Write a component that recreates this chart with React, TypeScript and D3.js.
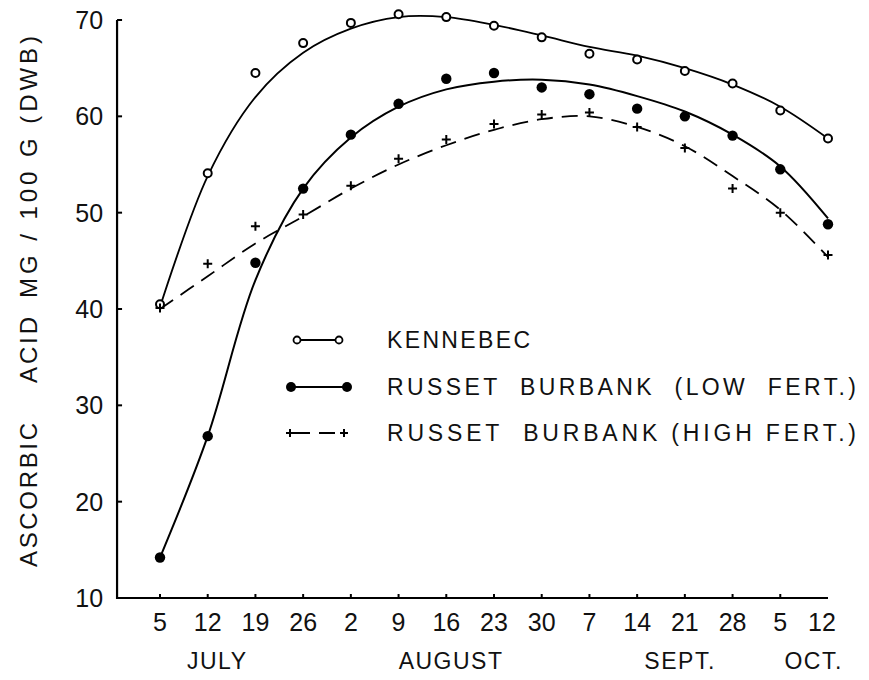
import * as d3 from "d3";

// week labels along the x axis (one every 7 days)
const weekLabels = ["5", "12", "19", "26", "2", "9", "16", "23", "30", "7", "14", "21", "28", "5", "12"];
const months = [
  { name: "JULY", at: 1.2 },
  { name: "AUGUST", at: 6.1 },
  { name: "SEPT.", at: 10.9 },
  { name: "OCT.", at: 13.7 },
];
const yTicks = [10, 20, 30, 40, 50, 60, 70];

// observed points
const kennebec = [40.5, 54.1, 64.5, 67.6, 69.7, 70.6, 70.3, 69.4, 68.2, 66.5, 65.9, 64.7, 63.4, 60.6, 57.7];
const russetLow = [14.2, 26.8, 44.8, 52.5, 58.1, 61.3, 63.9, 64.5, 63.0, 62.3, 60.8, 60.0, 58.0, 54.5, 48.8];
const russetHigh = [40.1, 44.7, 48.6, 49.8, 52.8, 55.6, 57.6, 59.2, 60.2, 60.4, 58.9, 56.7, 52.5, 50.0, 45.6];

// fitted (hand-drawn) trend curves, read at each week
const kennebecFit = [40.2, 53.8, 62.0, 66.6, 69.1, 70.3, 70.3, 69.5, 68.4, 67.2, 66.3, 65.0, 63.3, 61.0, 57.7];
const russetLowFit = [14.2, 26.8, 43.0, 52.5, 57.8, 61.0, 62.8, 63.6, 63.8, 63.3, 62.1, 60.5, 58.1, 54.8, 49.4];
const russetHighFit = [40.0, 43.4, 46.8, 49.6, 52.5, 55.0, 57.0, 58.6, 59.7, 60.0, 58.9, 56.9, 53.8, 50.3, 45.4];

const FONT = "'Liberation Sans', Arial, sans-serif";

const xScale = d3.scaleLinear().domain([0, 14]).range([160, 828]);
const yScale = d3.scaleLinear().domain([10, 70]).range([598, 20]);

const lineGen = d3
  .line<number>()
  .x((_, i) => xScale(i))
  .y((d) => yScale(d))
  .curve(d3.curveCatmullRom.alpha(0.5));

const Plus = ({ x, y, s = 5 }: { x: number; y: number; s?: number }) => (
  <path d={`M${x - s},${y}H${x + s}M${x},${y - s}V${y + s}`} stroke="#000" strokeWidth={2} />
);

export default function App() {
  const x0 = xScale(-0.9);
  const x1 = xScale(14);
  const yb = yScale(10);
  const yt = yScale(70);

  return (
    <svg width={869} height={680} style={{ display: "block", position: "absolute", left: 0, top: 0 }}>
      <rect width={869} height={680} fill="#fff" />

      {/* y axis title */}
      <g fontFamily={FONT} fontSize={24} fill="#111">
        <text transform="translate(37,495) rotate(-90)" textAnchor="middle" textLength={144} lengthAdjust="spacing">ASCORBIC</text>
        <text transform="translate(37,350) rotate(-90)" textAnchor="middle" textLength={66} lengthAdjust="spacing">ACID</text>
        <text transform="translate(37,167) rotate(-90)" textAnchor="middle" textLength={262} lengthAdjust="spacing">MG / 100 G (DWB)</text>
      </g>

      {/* axes */}
      <path d={`M${x0},${yt}V${yb}H${x1}`} fill="none" stroke="#000" strokeWidth={2.2} />
      {yTicks.map((t) => (
        <g key={t}>
          <line x1={x0} x2={x0 + 5} y1={yScale(t)} y2={yScale(t)} stroke="#000" strokeWidth={2} />
          <text x={x0 - 14} y={yScale(t)} dy="0.36em" textAnchor="end" fontFamily={FONT} fontSize={25} fill="#111">
            {t}
          </text>
        </g>
      ))}
      {weekLabels.map((w, i) => (
        <g key={i}>
          {i < 14 && <line x1={xScale(i)} x2={xScale(i)} y1={yb} y2={yb - 4} stroke="#000" strokeWidth={2} />}
          <text x={xScale(i) - (i === 14 ? 6 : 0)} y={631} textAnchor="middle" fontFamily={FONT} fontSize={25} fill="#111">
            {w}
          </text>
        </g>
      ))}
      {months.map((m) => (
        <text key={m.name} x={xScale(m.at)} y={669} textAnchor="middle" fontFamily={FONT} fontSize={23} letterSpacing={1.5} fill="#111">
          {m.name}
        </text>
      ))}

      {/* trend curves */}
      <path d={lineGen(kennebecFit) ?? ""} fill="none" stroke="#000" strokeWidth={1.8} />
      <path d={lineGen(russetLowFit) ?? ""} fill="none" stroke="#000" strokeWidth={2} />
      <path d={lineGen(russetHighFit) ?? ""} fill="none" stroke="#000" strokeWidth={1.8} strokeDasharray="16,9" />

      {/* observed points */}
      {kennebec.map((v, i) => (
        <circle key={`k${i}`} cx={xScale(i)} cy={yScale(v)} r={4} fill="#fff" stroke="#000" strokeWidth={2} />
      ))}
      {russetLow.map((v, i) => (
        <circle key={`l${i}`} cx={xScale(i)} cy={yScale(v)} r={5.2} fill="#000" />
      ))}
      {russetHigh.map((v, i) => (
        <Plus key={`h${i}`} x={xScale(i)} y={yScale(v)} s={4.5} />
      ))}

      {/* legend */}
      <g fontFamily={FONT} fontSize={23} fill="#111">
        <line x1={297} x2={339} y1={340} y2={340} stroke="#000" strokeWidth={1.8} />
        <circle cx={297} cy={340} r={3.5} fill="#fff" stroke="#000" strokeWidth={1.8} />
        <circle cx={339} cy={340} r={3.5} fill="#fff" stroke="#000" strokeWidth={1.8} />
        <text x={387} y={340} dy="0.36em" textLength={143} lengthAdjust="spacing">KENNEBEC</text>

        <line x1={291} x2={347} y1={387} y2={387} stroke="#000" strokeWidth={2} />
        <circle cx={291} cy={387} r={5} fill="#000" />
        <circle cx={347} cy={387} r={5} fill="#000" />
        <text x={387} y={387} dy="0.36em" textLength={469} lengthAdjust="spacing" style={{ whiteSpace: "pre" }}>RUSSET  BURBANK  (LOW  FERT.)</text>

        <line x1={290} x2={344} y1={433} y2={433} stroke="#000" strokeWidth={1.8} strokeDasharray="16,9" strokeDashoffset={-4} />
        <Plus x={290} y={433} s={4} />
        <Plus x={344} y={433} s={4} />
        <text x={387} y={433} dy="0.36em" textLength={469} lengthAdjust="spacing" style={{ whiteSpace: "pre" }}>RUSSET  BURBANK (HIGH FERT.)</text>
      </g>
    </svg>
  );
}
